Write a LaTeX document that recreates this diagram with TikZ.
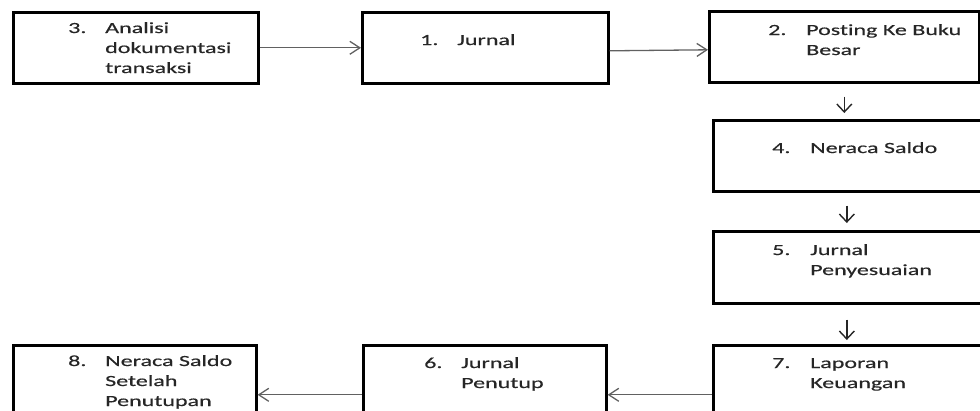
\documentclass[tikz,border=0pt]{standalone}
\usepackage{fontspec}
\setmainfont[FakeStretch=1.55,FakeBold=0.35,Ligatures=NoCommon]{Carlito}
\usetikzlibrary{arrows.meta}
% stacked lines of a label, baseline on the first line
\newcommand{\boxlines}[1]{\vtop{\halign{##\hfil\cr#1\crcr}}}
\begin{document}
\begin{tikzpicture}[x=1pt,y=-1pt,
  stepbox/.style={draw=black,line width=2.6pt,minimum height=71pt,inner sep=0pt,anchor=north west},
  num/.style={anchor=base west,inner sep=0pt,font=\fontsize{15.5pt}{20pt}\selectfont,text=black!85},
  lbl/.style={num},
  harr/.style={draw=black!62,line width=1.3pt,-{Straight Barb[length=10pt,width=13pt]}},
  varr/.style={draw=black!85,line width=1.4pt,-{Straight Barb[length=8pt,width=15pt]}}]
\useasboundingbox (0,0) rectangle (980,410);
\clip (0,0) rectangle (980,410);

% boxes
\node[stepbox,minimum width=245pt] (b3) at (12,11) {};
\node[stepbox,minimum width=246pt] (b1) at (361,11) {};
\node[stepbox,minimum width=270pt] (b2) at (708,10) {};
\node[stepbox,minimum width=275pt] (b4) at (712,119) {};
\node[stepbox,minimum width=275pt,minimum height=72pt] (b5) at (712,230) {};
\node[stepbox,minimum width=275pt] (b7) at (712,344) {};
\node[stepbox,minimum width=243pt] (b6) at (362,344) {};
\node[stepbox,minimum width=243pt] (b8) at (12,344) {};

% labels
\node[num] (n3) at ([xshift=56pt,yshift=-22pt]b3.north west) {3.};
\node[lbl] (t3) at ([xshift=93pt,yshift=-22pt]b3.north west) {\boxlines{Analisi\cr dokumentasi\cr transaksi}};
\node[num] (n1) at ([xshift=59pt,yshift=-34pt]b1.north west) {1.};
\node[lbl] (t1) at ([xshift=96pt,yshift=-34pt]b1.north west) {Jurnal};
\node[num] (n2) at ([xshift=60pt,yshift=-25pt]b2.north west) {2.};
\node[lbl] (t2) at ([xshift=98pt,yshift=-25pt]b2.north west) {\boxlines{Posting Ke Buku\cr Besar}};
\node[num] (n4) at ([xshift=60pt,yshift=-34pt]b4.north west) {4.};
\node[lbl] (t4) at ([xshift=98pt,yshift=-34pt]b4.north west) {Neraca Saldo};
\node[num] (n5) at ([xshift=60pt,yshift=-25pt]b5.north west) {5.};
\node[lbl] (t5) at ([xshift=98pt,yshift=-25pt]b5.north west) {\boxlines{Jurnal\cr Penyesuaian}};
\node[num] (n7) at ([xshift=60pt,yshift=-24pt]b7.north west) {7.};
\node[lbl] (t7) at ([xshift=98pt,yshift=-24pt]b7.north west) {\boxlines{Laporan\cr Keuangan}};
\node[num] (n6) at ([xshift=62pt,yshift=-24pt]b6.north west) {6.};
\node[lbl] (t6) at ([xshift=99pt,yshift=-24pt]b6.north west) {\boxlines{Jurnal\cr Penutup}};
\node[num] (n8) at ([xshift=56pt,yshift=-22pt]b8.north west) {8.};
\node[lbl] (t8) at ([xshift=93pt,yshift=-22pt]b8.north west) {\boxlines{Neraca Saldo\cr Setelah\cr Penutupan}};

% connectors
\draw[harr] (b3) -- (b1);
\draw[harr] ([yshift=-3pt]b1.east) -- ([yshift=-3pt]b2.west);
\draw[varr,shorten <=13pt,shorten >=6pt] (b2.south) -- (b2.south |- b4.north);
\draw[varr,shorten <=13pt,shorten >=7pt] ([xshift=-4pt]b4.south) -- ([xshift=-4pt]b5.north);
\draw[varr,shorten <=15pt,shorten >=4pt] ([xshift=-4pt]b5.south) -- ([xshift=-4pt]b7.north);
\draw[harr] ([yshift=-14pt]b7.west) -- ([yshift=-14pt]b6.east);
\draw[harr] ([yshift=-14pt]b6.west) -- ([yshift=-14pt]b8.east);
\end{tikzpicture}
\end{document}
